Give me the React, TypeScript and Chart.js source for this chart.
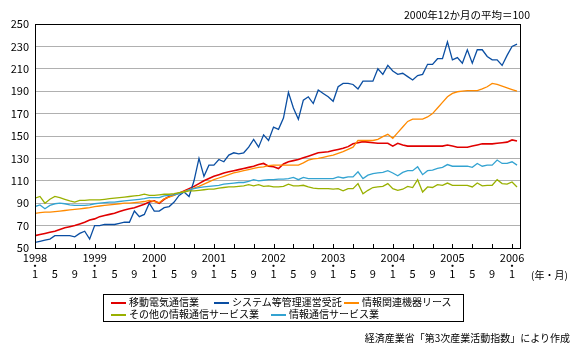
import React, { useEffect, useRef } from 'react';
import { Chart, registerables } from 'chart.js';

Chart.register(...registerables);

// Monthly index values, 1998/1 .. 2006/2 (2000 average = 100)
const YEARS = ['1998', '1999', '2000', '2001', '2002', '2003', '2004', '2005', '2006'];
const MONTH_TICKS = ['1', '5', '9'];

const SERIES_NAMES = [
  '移動電気通信業',
  'システム等管理運営受託',
  '情報関連機器リース',
  'その他の情報通信サービス業',
  '情報通信サービス業',
];
const SERIES_COLORS = ['#e00000', '#0a4ea2', '#ff8a00', '#99b000', '#33a3d1'];

const MOBILE = [
  61, 62, 63, 64, 65, 66.5, 68, 69, 70, 71.5,
  73, 75, 76, 78, 79, 80, 81, 82.5, 84, 85,
  86, 87.5, 89, 91, 92, 90, 93.5, 96, 97.5, 99,
  101, 103, 105, 107.5, 110, 112, 114, 115.5, 117, 118,
  119, 120, 121, 122, 123, 124.5, 125.5, 123, 122.5, 121,
  125, 127, 128, 129, 130.5, 132, 133.5, 135, 135.5, 136,
  137, 138, 139, 140.5, 143, 144, 145, 144.5, 144, 143.5,
  143.5, 143.5, 141, 143.5, 142, 141, 141, 141, 141, 141,
  141, 141, 141, 142, 141, 140, 140, 140, 141, 142,
  143, 143, 143, 143.5, 144, 144.5, 146.5, 145.5,
];

const SYSTEM = [
  55, 56, 57, 58, 61, 61, 61, 61, 60, 63,
  65, 58, 70, 70, 71, 71, 71, 72, 73, 73,
  83, 78, 80, 90, 83, 83, 86, 87, 91, 97,
  100, 96, 110, 130, 114, 124, 124, 129, 127, 133,
  135, 134, 135, 140, 147, 140, 151, 146, 158, 156,
  166, 189, 175, 165, 182, 185, 179, 191, 188, 185,
  181, 194, 197, 197, 196, 192, 199, 199, 199, 210,
  205, 213, 208, 205, 206, 203, 200, 204, 205, 214,
  214, 219, 219, 234, 218, 220, 215, 227, 215, 227,
  227, 221, 218, 218, 213, 222, 230, 232,
];

const LEASE = [
  81, 81.5, 82, 82, 82.5, 83, 83.5, 84, 84.5, 85,
  85.5, 86, 87, 87.5, 88, 88.5, 89, 89.5, 90, 90,
  90.5, 91, 91.5, 92.5, 91.5, 90.5, 94, 95.5, 97, 99,
  100.5, 102, 103.5, 105, 107, 109, 111, 112.5, 114, 115.5,
  117, 118, 119, 120, 121, 122, 122.5, 123.5, 124, 124,
  124, 124, 124, 124, 126, 128.5, 129.5, 130, 131, 132,
  133, 134.5, 136, 138, 140, 146, 146, 146, 146, 147,
  149.5, 151.5, 148, 153, 158, 163, 165, 165, 165, 167,
  170, 175, 180, 185, 188, 189.5, 190, 190.5, 190.5, 190.5,
  192, 194, 197, 196, 194.5, 193, 191.5, 190,
];

const OTHER = [
  94.5, 96, 90, 93.5, 96, 95, 93.5, 92, 91, 92.5,
  92.5, 93, 93, 93, 93.5, 94, 94.5, 95, 95.5, 96,
  96.5, 97, 98, 97, 97, 97.5, 98, 98, 98.5, 99.5,
  100, 101, 101, 101.5, 102, 102.5, 102.5, 103.5, 104, 104.5,
  104.5, 105, 105.5, 106.5, 105.5, 106.5, 105, 105.5, 104.5, 104.5,
  105, 107, 105.5, 105.5, 106, 104.5, 103.5, 103, 103, 103,
  102.5, 103, 101, 103, 103, 107.5, 98.5, 101.5, 104, 104.5,
  105, 107.5, 103, 101.5, 102.5, 105, 104, 111, 100, 104.5,
  104, 106.5, 106, 108, 106, 106, 106, 106, 104.5, 108,
  105.5, 106, 106, 111, 107.5, 107, 109, 104.5,
];

const ICT = [
  87, 88.5, 85, 88, 89.5, 90, 89.5, 88.5, 88, 88,
  88, 88.5, 89.5, 90, 90.5, 91, 91, 91.5, 92, 92.5,
  93, 93.5, 94, 95, 95, 95, 96.5, 97, 97.5, 98.5,
  100, 102, 103, 104, 104.5, 105, 105.5, 106, 107, 107.5,
  108, 108.5, 108.5, 109.5, 111, 110, 110.5, 111, 111, 111.5,
  111.5, 112, 113, 111, 113, 112, 112, 112, 112, 112,
  112, 113.5, 112.5, 113.5, 113.5, 118, 112, 115, 116.5, 117,
  117.5, 119, 117, 114.5, 117.5, 119, 119, 122.5, 115.5, 119,
  119.5, 121, 122, 124.5, 123, 123, 123, 123, 122, 125.5,
  123, 124, 124, 128.5, 125.5, 125.5, 127, 124,
];

const SERIES_VALUES = [MOBILE, SYSTEM, LEASE, OTHER, ICT];
const DRAW_ORDER = [3, 4, 2, 1, 0];

const FONT = '"Noto Sans CJK JP", "Noto Sans", sans-serif';

const framePlugin = {
  id: 'frame',
  afterDatasetsDraw(chart: any) {
    const { ctx, chartArea: a, scales } = chart;
    const x = scales.x;
    ctx.save();
    ctx.strokeStyle = '#000';
    ctx.lineWidth = 1;
    ctx.beginPath();
    x.ticks.forEach((t: any) => {
      const px = Math.round(x.getPixelForValue(t.value)) + 0.5;
      ctx.moveTo(px, Math.round(a.bottom));
      ctx.lineTo(px, Math.round(a.bottom) - 4);
    });
    ctx.stroke();
    ctx.strokeRect(
      Math.round(a.left) + 0.5,
      Math.round(a.top) + 0.5,
      Math.round(a.right - a.left),
      Math.round(a.bottom - a.top)
    );
    ctx.restore();
  },
};

export default function App() {
  const ref = useRef<HTMLCanvasElement | null>(null);

  useEffect(() => {
    if (!ref.current) return;
    const datasets = DRAW_ORDER.map((k) => ({
      label: SERIES_NAMES[k],
      data: SERIES_VALUES[k].map((v, i) => ({ x: i, y: v })),
      borderColor: SERIES_COLORS[k],
      backgroundColor: SERIES_COLORS[k],
      borderWidth: k === 0 ? 1.6 : 1.3,
      pointRadius: 0,
      tension: 0,
      fill: false,
    }));
    const chart = new Chart(ref.current, {
      type: 'line',
      data: { datasets },
      plugins: [framePlugin],
      options: {
        animation: false,
        responsive: false,
        devicePixelRatio: 1,
        layout: { padding: { left: 0, top: 24, right: 67, bottom: 0 } },
        plugins: { legend: { display: false }, tooltip: { enabled: false } },
        scales: {
          x: {
            type: 'linear',
            min: 0,
            max: 97.6,
            afterFit: (s: any) => {
              s.height = 107;
            },
            afterBuildTicks: (s: any) => {
              const t = [];
              for (let v = 0; v <= 96; v += 4) t.push({ value: v });
              s.ticks = t;
            },
            grid: { display: false, drawTicks: false },
            border: { display: false },
            ticks: {
              autoSkip: false,
              maxRotation: 0,
              padding: 6,
              color: '#000',
              font: { family: FONT, size: 11, lineHeight: '8px' },
              callback: (value: any) => {
                const v = Number(value);
                const m = v % 12;
                if (m === 0) return [YEARS[v / 12], '・', MONTH_TICKS[0]];
                return ['', '', MONTH_TICKS[m / 4]];
              },
            },
          },
          y: {
            min: 50,
            max: 250,
            afterFit: (s: any) => {
              s.width = 35;
            },
            grid: { color: '#b0b0b0', drawTicks: false, lineWidth: 1 },
            border: { display: false },
            ticks: {
              stepSize: 20,
              padding: 6,
              color: '#000',
              font: { family: FONT, size: 11 },
            },
          },
        },
      },
    });
    return () => chart.destroy();
  }, []);

  const text: React.CSSProperties = {
    position: 'absolute',
    fontFamily: FONT,
    fontSize: 10,
    lineHeight: '12px',
    color: '#000',
    whiteSpace: 'nowrap',
  };

  const legendPos = [
    { left: 7, top: 1 },
    { left: 110, top: 1 },
    { left: 240, top: 1 },
    { left: 7, top: 13 },
    { left: 167, top: 13 },
  ];

  return (
    <div style={{ position: 'fixed', left: 0, top: 0, width: 587, height: 355, background: '#fff', overflow: 'hidden' }}>
      <canvas ref={ref} width={587} height={355} style={{ position: 'absolute', left: 0, top: 0, width: 587, height: 355 }} />
      <div style={{ ...text, fontSize: 10.5, right: 57, top: 9 }}>2000年12か月の平均＝100</div>
      <div style={{ ...text, fontSize: 10, left: 531, top: 269 }}>(年・月)</div>
      <div
        style={{
          position: 'absolute',
          left: 103,
          top: 294,
          width: 361,
          height: 28,
          border: '1px solid #000',
          boxSizing: 'border-box',
        }}
      >
        {SERIES_NAMES.map((name, k) => (
          <div key={name} style={{ ...text, left: legendPos[k].left, top: legendPos[k].top, height: 12 }}>
            <div
              style={{
                position: 'absolute',
                left: 0,
                top: 6,
                width: 15,
                height: 2,
                background: SERIES_COLORS[k],
              }}
            />
            <span style={{ marginLeft: 18 }}>{name}</span>
          </div>
        ))}
      </div>
      <div style={{ ...text, right: 17, top: 332 }}>経済産業省「第3次産業活動指数」により作成</div>
    </div>
  );
}
